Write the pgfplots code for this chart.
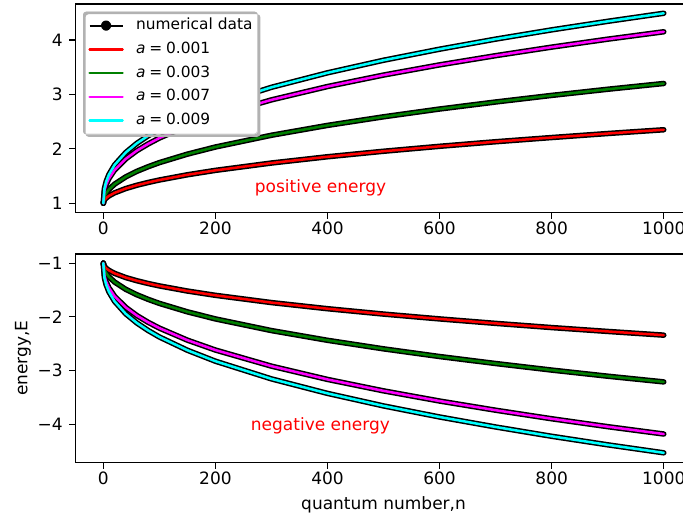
\documentclass[border=0pt]{standalone}
\usepackage{pgfplots}
\pgfplotsset{compat=1.18}
\usepackage{pgfplotstable}
\usepackage{fontspec}
\setmainfont{DejaVu Sans}

\newcommand\fs{\fontsize{17}{20}\selectfont}
\newcommand\lfs{\fontsize{15.4}{18}\selectfont}

% columns: n, red (a=0.001), green (a=0.003), magenta (a=0.007), cyan (a=0.009)
\pgfplotstableread{
n    r      g      m      c
0    1      1      1      1
2    1.060  1.119  1.232  1.273
5    1.095  1.182  1.341  1.398
10   1.135  1.253  1.455  1.528
20   1.191  1.350  1.609  1.702
40   1.270  1.484  1.815  1.932
60   1.331  1.587  1.967  2.102
80   1.382  1.671  2.090  2.239
100  1.427  1.746  2.198  2.358
150  1.523  1.902  2.420  2.603
200  1.604  2.033  2.602  2.804
300  1.739  2.249  2.899  3.130
400  1.854  2.430  3.144  3.396
500  1.955  2.588  3.355  3.627
600  2.046  2.731  3.542  3.830
700  2.130  2.860  3.711  4.015
800  2.207  2.981  3.868  4.185
900  2.281  3.094  4.014  4.342
1000 2.350  3.200  4.150  4.490
}\postab

\pgfplotstableread{
n    r       g       m       c
0    -1      -1      -1      -1
2    -1.060  -1.119  -1.234  -1.276
5    -1.095  -1.183  -1.344  -1.402
10   -1.134  -1.254  -1.460  -1.534
20   -1.190  -1.351  -1.615  -1.710
40   -1.268  -1.487  -1.823  -1.943
60   -1.328  -1.589  -1.976  -2.114
80   -1.379  -1.674  -2.101  -2.253
100  -1.424  -1.749  -2.209  -2.374
150  -1.519  -1.906  -2.433  -2.621
200  -1.599  -2.038  -2.617  -2.825
300  -1.734  -2.255  -2.917  -3.154
400  -1.848  -2.436  -3.164  -3.424
500  -1.948  -2.595  -3.377  -3.657
600  -2.038  -2.738  -3.566  -3.863
700  -2.121  -2.868  -3.737  -4.049
800  -2.199  -2.990  -3.896  -4.222
900  -2.271  -3.104  -4.043  -4.381
1000 -2.340  -3.210  -4.180  -4.530
}\negtab

\definecolor{mplred}{RGB}{255,0,0}
\definecolor{mplgreen}{RGB}{0,128,0}
\definecolor{mplmag}{RGB}{255,0,255}
\definecolor{mplcyan}{RGB}{0,255,255}

\pgfplotsset{
  myax/.style={
    scale only axis, width=616.5pt, height=208.5pt,
    xmin=-50, xmax=1050,
    xtick={0,200,400,600,800,1000},
    axis line style={black, line width=1.2pt},
    tick align=outside, major tick length=6pt,
    tick style={black, line width=1.2pt},
    xtick pos=left, ytick pos=left,
    ticklabel style={font=\fs},
    /pgf/number format/assume math mode=true,
    /pgf/number format/1000 sep={},
    xticklabel style={inner sep=0pt, yshift=-3.5pt},
    yticklabel style={inner sep=0pt, xshift=-6.5pt},
    label style={font=\fs},
    black line/.style={black, line width=5.5pt, line cap=round, line join=round, no marks},
    col line/.style={line width=2.5pt, line cap=round, line join=round, no marks},
  },
}

\begin{document}
\begin{tikzpicture}
% ---------------- top: positive energy ----------------
\begin{axis}[myax,
  at={(75.3pt,-4pt)}, anchor=north west,
  ymin=0.83, ymax=4.66,
  ytick={1,2,3,4},
  legend cell align=left,
  legend style={name=leg, at={(0,1)}, anchor=north west, xshift=7.7pt, yshift=-7.7pt,
    draw=black!18, line width=0.8pt, rounded corners=3pt, fill=white,
    font=\lfs,
    nodes={inner sep=0pt, text height=11.5pt, text depth=3.5pt},
    row sep=8.7pt, column sep=12.3pt, inner xsep=5pt, inner ysep=6pt},
]
\addplot[black line, legend image code/.code={\draw[black, line width=2pt, line cap=butt, rounded corners=0pt] (0pt,0pt) -- (33pt,0pt); \fill[black] (16.5pt,0pt) circle (2.4pt);}] table[x=n, y=r] {\postab};
\addlegendentry{numerical data}
\addplot[black line, forget plot] table[x=n, y=g] {\postab};
\addplot[black line, forget plot] table[x=n, y=m] {\postab};
\addplot[black line, forget plot] table[x=n, y=c] {\postab};
\addplot[col line, mplred, legend image code/.code={\draw[mplred, line width=2.4pt] (0pt,0pt) -- (33pt,0pt);}] table[x=n, y=r] {\postab};
\addlegendentry{\textit{a}\hspace{0.25em}=\hspace{0.25em}0.001}
\addplot[col line, mplgreen, legend image code/.code={\draw[mplgreen, line width=2.4pt] (0pt,0pt) -- (33pt,0pt);}] table[x=n, y=g] {\postab};
\addlegendentry{\textit{a}\hspace{0.25em}=\hspace{0.25em}0.003}
\addplot[col line, mplmag, legend image code/.code={\draw[mplmag, line width=2.4pt] (0pt,0pt) -- (33pt,0pt);}] table[x=n, y=m] {\postab};
\addlegendentry{\textit{a}\hspace{0.25em}=\hspace{0.25em}0.007}
\addplot[col line, mplcyan, legend image code/.code={\draw[mplcyan, line width=2.4pt] (0pt,0pt) -- (33pt,0pt);}] table[x=n, y=c] {\postab};
\addlegendentry{\textit{a}\hspace{0.25em}=\hspace{0.25em}0.009}
\node[anchor=base west, text=mplred, font=\fs, inner sep=0pt] at (axis cs:270,1.2) {positive energy};
\end{axis}
% legend shadow (visible strip at bottom-right)
\fill[black!30, even odd rule, rounded corners=3pt]
  ([xshift=2.5pt,yshift=-2.5pt]leg.south west) rectangle ([xshift=2.5pt,yshift=-2.5pt]leg.north east)
  (leg.south west) rectangle (leg.north east);

% ---------------- bottom: negative energy ----------------
\begin{axis}[myax,
  at={(75.3pt,-254pt)}, anchor=north west,
  ymin=-4.71, ymax=-0.83,
  ytick={-4,-3,-2,-1},
  yticklabels={−4,−3,−2,−1},
  xlabel={quantum number,n},
  ylabel={energy,E},
  xlabel style={at={(rel axis cs:0.5,0)}, anchor=center, yshift=-42pt},
  ylabel style={at={(rel axis cs:-0.0848,0.5)}, anchor=center},
]
\addplot[black line] table[x=n, y=r] {\negtab};
\addplot[black line] table[x=n, y=g] {\negtab};
\addplot[black line] table[x=n, y=m] {\negtab};
\addplot[black line] table[x=n, y=c] {\negtab};
\addplot[col line, mplred] table[x=n, y=r] {\negtab};
\addplot[col line, mplgreen] table[x=n, y=g] {\negtab};
\addplot[col line, mplmag] table[x=n, y=m] {\negtab};
\addplot[col line, mplcyan] table[x=n, y=c] {\negtab};
\node[anchor=base west, text=mplred, font=\fs, inner sep=0pt] at (axis cs:263,-4.11) {negative energy};
\end{axis}

\pgfresetboundingbox
\useasboundingbox (0pt,0pt) rectangle (683pt,-522pt);
\end{tikzpicture}
\end{document}
